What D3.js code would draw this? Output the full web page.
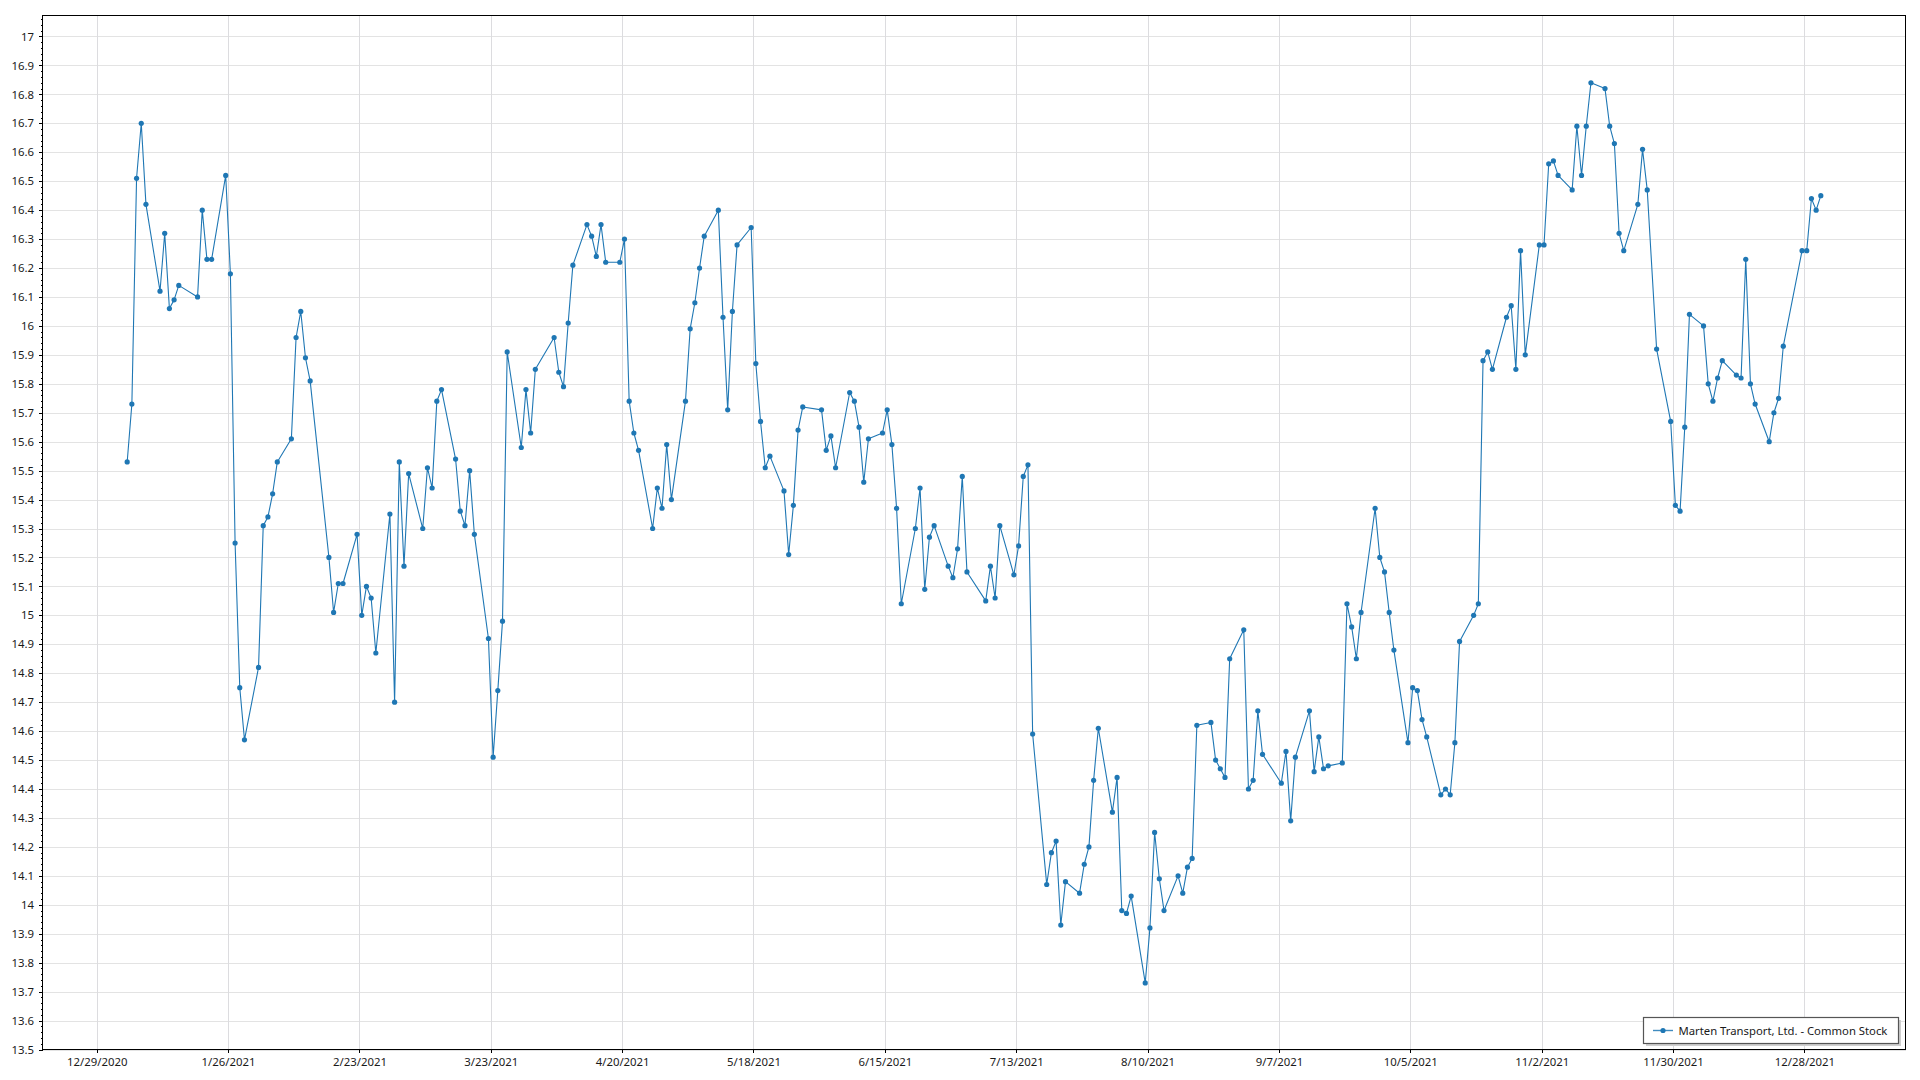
<!DOCTYPE html>
<html>
<head>
<meta charset="utf-8">
<script src="https://cdn.jsdelivr.net/npm/d3@7"></script>
<style>
  html, body { margin: 0; padding: 0; background: #ffffff; }
  svg { display: block; }
  text { font-family: "Segoe UI", "Noto Sans", "Open Sans", sans-serif; }
</style>
</head>
<body>
<svg id="chart" width="1920" height="1080"></svg>
<script>
// ---------------- DATA ----------------
const seriesName = "Marten Transport, Ltd. - Common Stock";

const dates = [
  "2021-01-04","2021-01-05","2021-01-06","2021-01-07","2021-01-08","2021-01-11","2021-01-12","2021-01-13","2021-01-14","2021-01-15",
  "2021-01-19","2021-01-20","2021-01-21","2021-01-22","2021-01-25","2021-01-26","2021-01-27","2021-01-28","2021-01-29","2021-02-01",
  "2021-02-02","2021-02-03","2021-02-04","2021-02-05","2021-02-08","2021-02-09","2021-02-10","2021-02-11","2021-02-12","2021-02-16",
  "2021-02-17","2021-02-18","2021-02-19","2021-02-22","2021-02-23","2021-02-24","2021-02-25","2021-02-26","2021-03-01","2021-03-02",
  "2021-03-03","2021-03-04","2021-03-05","2021-03-08","2021-03-09","2021-03-10","2021-03-11","2021-03-12","2021-03-15","2021-03-16",
  "2021-03-17","2021-03-18","2021-03-19","2021-03-22","2021-03-23","2021-03-24","2021-03-25","2021-03-26","2021-03-29","2021-03-30",
  "2021-03-31","2021-04-01","2021-04-05","2021-04-06","2021-04-07","2021-04-08","2021-04-09","2021-04-12","2021-04-13","2021-04-14",
  "2021-04-15","2021-04-16","2021-04-19","2021-04-20","2021-04-21","2021-04-22","2021-04-23","2021-04-26","2021-04-27","2021-04-28",
  "2021-04-29","2021-04-30","2021-05-03","2021-05-04","2021-05-05","2021-05-06","2021-05-07","2021-05-10","2021-05-11","2021-05-12",
  "2021-05-13","2021-05-14","2021-05-17","2021-05-18","2021-05-19","2021-05-20","2021-05-21","2021-05-24","2021-05-25","2021-05-26",
  "2021-05-27","2021-05-28","2021-06-01","2021-06-02","2021-06-03","2021-06-04","2021-06-07","2021-06-08","2021-06-09","2021-06-10",
  "2021-06-11","2021-06-14","2021-06-15","2021-06-16","2021-06-17","2021-06-18","2021-06-21","2021-06-22","2021-06-23","2021-06-24",
  "2021-06-25","2021-06-28","2021-06-29","2021-06-30","2021-07-01","2021-07-02","2021-07-06","2021-07-07","2021-07-08","2021-07-09",
  "2021-07-12","2021-07-13","2021-07-14","2021-07-15","2021-07-16","2021-07-19","2021-07-20","2021-07-21","2021-07-22","2021-07-23",
  "2021-07-26","2021-07-27","2021-07-28","2021-07-29","2021-07-30","2021-08-02","2021-08-03","2021-08-04","2021-08-05","2021-08-06",
  "2021-08-09","2021-08-10","2021-08-11","2021-08-12","2021-08-13","2021-08-16","2021-08-17","2021-08-18","2021-08-19","2021-08-20",
  "2021-08-23","2021-08-24","2021-08-25","2021-08-26","2021-08-27","2021-08-30","2021-08-31","2021-09-01","2021-09-02","2021-09-03",
  "2021-09-07","2021-09-08","2021-09-09","2021-09-10","2021-09-13","2021-09-14","2021-09-15","2021-09-16","2021-09-17","2021-09-20",
  "2021-09-21","2021-09-22","2021-09-23","2021-09-24","2021-09-27","2021-09-28","2021-09-29","2021-09-30","2021-10-01","2021-10-04",
  "2021-10-05","2021-10-06","2021-10-07","2021-10-08","2021-10-11","2021-10-12","2021-10-13","2021-10-14","2021-10-15","2021-10-18",
  "2021-10-19","2021-10-20","2021-10-21","2021-10-22","2021-10-25","2021-10-26","2021-10-27","2021-10-28","2021-10-29","2021-11-01",
  "2021-11-02","2021-11-03","2021-11-04","2021-11-05","2021-11-08","2021-11-09","2021-11-10","2021-11-11","2021-11-12","2021-11-15",
  "2021-11-16","2021-11-17","2021-11-18","2021-11-19","2021-11-22","2021-11-23","2021-11-24","2021-11-26","2021-11-29","2021-11-30",
  "2021-12-01","2021-12-02","2021-12-03","2021-12-06","2021-12-07","2021-12-08","2021-12-09","2021-12-10","2021-12-13","2021-12-14",
  "2021-12-15","2021-12-16","2021-12-17","2021-12-20","2021-12-21","2021-12-22","2021-12-23","2021-12-27","2021-12-28","2021-12-29",
  "2021-12-30","2021-12-31"
];

const closes = [
  15.53,15.73,16.51,16.70,16.42,16.12,16.32,16.06,16.09,16.14,
  16.10,16.40,16.23,16.23,16.52,16.18,15.25,14.75,14.57,14.82,
  15.31,15.34,15.42,15.53,15.61,15.96,16.05,15.89,15.81,15.20,
  15.01,15.11,15.11,15.28,15.00,15.10,15.06,14.87,15.35,14.70,
  15.53,15.17,15.49,15.30,15.51,15.44,15.74,15.78,15.54,15.36,
  15.31,15.50,15.28,14.92,14.51,14.74,14.98,15.91,15.58,15.78,
  15.63,15.85,15.96,15.84,15.79,16.01,16.21,16.35,16.31,16.24,
  16.35,16.22,16.22,16.30,15.74,15.63,15.57,15.30,15.44,15.37,
  15.59,15.40,15.74,15.99,16.08,16.20,16.31,16.40,16.03,15.71,
  16.05,16.28,16.34,15.87,15.67,15.51,15.55,15.43,15.21,15.38,
  15.64,15.72,15.71,15.57,15.62,15.51,15.77,15.74,15.65,15.46,
  15.61,15.63,15.71,15.59,15.37,15.04,15.30,15.44,15.09,15.27,
  15.31,15.17,15.13,15.23,15.48,15.15,15.05,15.17,15.06,15.31,
  15.14,15.24,15.48,15.52,14.59,14.07,14.18,14.22,13.93,14.08,
  14.04,14.14,14.20,14.43,14.61,14.32,14.44,13.98,13.97,14.03,
  13.73,13.92,14.25,14.09,13.98,14.10,14.04,14.13,14.16,14.62,
  14.63,14.50,14.47,14.44,14.85,14.95,14.40,14.43,14.67,14.52,
  14.42,14.53,14.29,14.51,14.67,14.46,14.58,14.47,14.48,14.49,
  15.04,14.96,14.85,15.01,15.37,15.20,15.15,15.01,14.88,14.56,
  14.75,14.74,14.64,14.58,14.38,14.40,14.38,14.56,14.91,15.00,
  15.04,15.88,15.91,15.85,16.03,16.07,15.85,16.26,15.90,16.28,
  16.28,16.56,16.57,16.52,16.47,16.69,16.52,16.69,16.84,16.82,
  16.69,16.63,16.32,16.26,16.42,16.61,16.47,15.92,15.67,15.38,
  15.36,15.65,16.04,16.00,15.80,15.74,15.82,15.88,15.83,15.82,
  16.23,15.80,15.73,15.60,15.70,15.75,15.93,16.26,16.26,16.44,
  16.40,16.45
];

const xTickDates = [
  "2020-12-29","2021-01-26","2021-02-23","2021-03-23","2021-04-20","2021-05-18","2021-06-15",
  "2021-07-13","2021-08-10","2021-09-07","2021-10-05","2021-11-02","2021-11-30","2021-12-28"
];

const yTicks = [
  13.5,13.6,13.7,13.8,13.9,14.0,14.1,14.2,14.3,14.4,14.5,14.6,14.7,14.8,14.9,
  15.0,15.1,15.2,15.3,15.4,15.5,15.6,15.7,15.8,15.9,16.0,16.1,16.2,16.3,16.4,
  16.5,16.6,16.7,16.8,16.9,17.0
];

const yDomain = [13.5, 17.0725];

// ---------------- LAYOUT ----------------
const W = 1920, H = 1080;
const plot = { left: 42.5, right: 1905.5, top: 15.5, bottom: 1049.5 };
const lineColor = "#1f77b4";
const FONT = '"Segoe UI", "Noto Sans", "Open Sans", sans-serif';

const parse = d3.timeParse("%Y-%m-%d");
const fmtX = d3.timeFormat("%-m/%-d/%Y");
const fmtY = v => String(+v.toFixed(1));

// points plotted at mid-day of each trading date
const data = dates.map((d, i) => ({ date: d3.timeHour.offset(parse(d), 12), value: closes[i] }));

const ext = d3.extent(data, d => +d.date);
const pad = (ext[1] - ext[0]) * 0.05;
const x = d3.scaleTime()
  .domain([new Date(ext[0] - pad), new Date(ext[1] + pad)])
  .range([plot.left, plot.right]);

const y = d3.scaleLinear()
  .domain(yDomain)
  .range([plot.bottom, plot.top]);

const svg = d3.select("#chart");
svg.append("rect").attr("width", W).attr("height", H).attr("fill", "#ffffff");

// font size fitted so the fallback font matches the reference text widths
function fitSize(str, targetWidth) {
  const t = svg.append("text").attr("font-size", 12).style("font-family", FONT).text(str);
  const w = t.node().getComputedTextLength();
  t.remove();
  return Math.min(12, 12 * targetWidth / w);
}
const tickFont = fitSize("12/29/2020", 60.5);
const legendFont = fitSize(seriesName, 209);

const xTicks = xTickDates.map(parse);

// ---------------- GRID ----------------
const grid = svg.append("g").attr("shape-rendering", "crispEdges");
grid.selectAll("line.h").data(yTicks).join("line")
  .attr("class", "h")
  .attr("x1", plot.left).attr("x2", plot.right)
  .attr("y1", d => Math.round(y(d)) + 0.5).attr("y2", d => Math.round(y(d)) + 0.5)
  .attr("stroke", "#e3e3e3").attr("stroke-width", 1);
grid.selectAll("line.v").data(xTicks).join("line")
  .attr("class", "v")
  .attr("y1", plot.top).attr("y2", plot.bottom)
  .attr("x1", d => Math.round(x(d)) + 0.5).attr("x2", d => Math.round(x(d)) + 0.5)
  .attr("stroke", "#dcdcdf").attr("stroke-width", 1);

// ---------------- AXES ----------------
const yMinor = d3.range(Math.round(yDomain[0] * 50), Math.floor(yDomain[1] * 50) + 1).map(v => v / 50);

const yAxisMinor = svg.append("g")
  .attr("transform", `translate(${plot.left},0)`)
  .call(d3.axisLeft(y).tickValues(yMinor).tickSize(2).tickFormat(""));
yAxisMinor.select(".domain").remove();

const yAxis = svg.append("g")
  .attr("transform", `translate(${plot.left},0)`)
  .call(d3.axisLeft(y).tickValues(yTicks).tickSize(4).tickPadding(4.5).tickFormat(fmtY));
yAxis.select(".domain").remove();

const xAxis = svg.append("g")
  .attr("transform", `translate(0,${plot.bottom})`)
  .call(d3.axisBottom(x).tickValues(xTicks).tickSize(3).tickPadding(5).tickFormat(fmtX));
xAxis.select(".domain").remove();

[yAxis, xAxis].forEach(g => {
  g.selectAll("text").attr("font-size", tickFont).attr("fill", "#1a1a1a")
    .style("font-family", FONT);
});
[yAxis, xAxis, yAxisMinor].forEach(g => {
  g.selectAll("line").attr("stroke", "#000").attr("shape-rendering", "crispEdges");
});

// frame
svg.append("rect")
  .attr("x", plot.left).attr("y", plot.top)
  .attr("width", plot.right - plot.left).attr("height", plot.bottom - plot.top)
  .attr("fill", "none").attr("stroke", "#000").attr("stroke-width", 1)
  .attr("shape-rendering", "crispEdges");

// ---------------- SERIES ----------------
svg.append("clipPath").attr("id", "clip")
  .append("rect").attr("x", plot.left).attr("y", plot.top)
  .attr("width", plot.right - plot.left).attr("height", plot.bottom - plot.top);

const series = svg.append("g").attr("clip-path", "url(#clip)");
series.append("path")
  .datum(data)
  .attr("fill", "none")
  .attr("stroke", lineColor)
  .attr("stroke-width", 1.1)
  .attr("stroke-linejoin", "round")
  .attr("d", d3.line().x(d => x(d.date)).y(d => y(d.value)));

series.selectAll("circle").data(data).join("circle")
  .attr("cx", d => x(d.date)).attr("cy", d => y(d.value))
  .attr("r", 2.6).attr("fill", lineColor);

// ---------------- LEGEND ----------------
const lg = svg.append("g").attr("transform", "translate(1643,1017)");
const lgW = 255, lgH = 26;
lg.append("rect").attr("x", 3).attr("y", 3).attr("width", lgW).attr("height", lgH)
  .attr("fill", "#cfcfcf");
lg.append("rect").attr("x", 0.5).attr("y", 0.5).attr("width", lgW).attr("height", lgH)
  .attr("fill", "#ffffff").attr("stroke", "#555555").attr("stroke-width", 1.2);
lg.append("line").attr("x1", 10).attr("x2", 30).attr("y1", 13.5).attr("y2", 13.5)
  .attr("stroke", lineColor).attr("stroke-width", 1.4).attr("opacity", 0.85);
lg.append("circle").attr("cx", 20).attr("cy", 13.5).attr("r", 2.6).attr("fill", lineColor);
lg.append("text").attr("x", 35.5).attr("y", 17.5)
  .attr("font-size", legendFont).attr("fill", "#1a1a1a")
  .style("font-family", FONT)
  .text(seriesName);
</script>
</body>
</html>
